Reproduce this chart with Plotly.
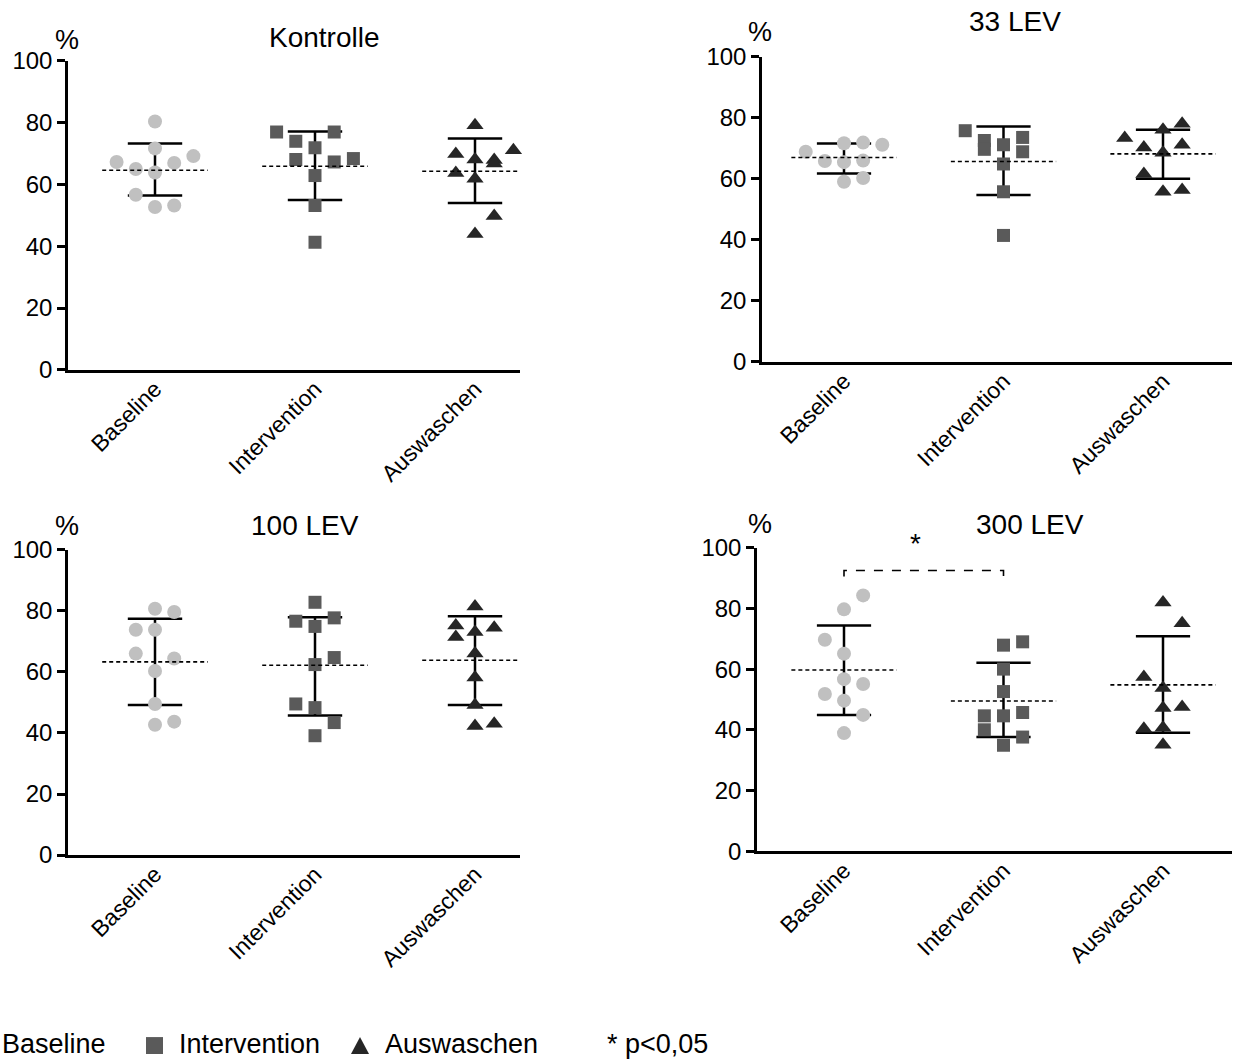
import plotly.graph_objects as go

# ---------------- data ----------------
categories = ["Baseline", "Intervention", "Auswaschen"]
panel_titles = ["Kontrolle", "33 LEV", "100 LEV", "300 LEV"]

kon_baseline = [80.4, 71.7, 67.3, 69.2, 65.0, 67.0, 63.9, 56.7, 52.7, 53.2]
kon_intervention = [77.0, 77.0, 74.0, 71.9, 68.1, 67.3, 68.4, 62.9, 53.2, 41.3]
kon_auswaschen = [79.2, 69.9, 68.1, 67.9, 66.8, 71.1, 63.7, 61.9, 49.8, 44.0]
kon_mean = [64.6, 65.9, 64.3]
kon_upper = [73.3, 77.2, 74.9]
kon_lower = [56.4, 55.0, 54.0]

lev33_baseline = [68.8, 71.6, 71.8, 71.1, 65.8, 65.4, 65.9, 59.0, 60.2]
lev33_intervention = [75.7, 72.5, 69.6, 71.1, 73.5, 68.8, 64.8, 55.7, 41.4]
lev33_auswaschen = [73.3, 70.2, 76.0, 78.0, 71.1, 68.5, 61.5, 55.7, 56.3]
lev33_mean = [66.9, 65.6, 68.1]
lev33_upper = [71.5, 77.1, 76.0]
lev33_lower = [61.7, 54.6, 60.0]

lev100_baseline = [80.7, 79.6, 73.8, 73.8, 66.0, 64.4, 60.3, 49.5, 42.7, 43.7]
lev100_intervention = [82.8, 76.6, 77.7, 74.9, 64.7, 62.4, 49.5, 48.3, 43.4, 39.1]
lev100_auswaschen = [81.4, 75.2, 73.1, 74.5, 71.4, 66.0, 58.2, 49.2, 42.3, 43.0]
lev100_mean = [63.3, 62.2, 63.8]
lev100_upper = [77.4, 77.9, 78.2]
lev100_lower = [49.2, 45.7, 49.2]

lev300_baseline = [84.3, 79.7, 69.7, 65.1, 56.7, 55.1, 51.8, 49.6, 44.9, 38.9]
lev300_intervention = [67.9, 69.0, 60.0, 52.6, 44.6, 40.0, 44.6, 45.7, 37.6, 34.9]
lev300_auswaschen = [82.0, 75.1, 57.4, 53.8, 47.2, 47.5, 40.3, 40.7, 35.1]
lev300_mean = [59.7, 49.5, 54.8]
lev300_upper = [74.4, 62.1, 70.8]
lev300_lower = [44.9, 37.6, 39.0]

y_ticks = [0, 20, 40, 60, 80, 100]
significance_300 = {"pair": (0, 1), "label": "*"}
legend_note = "* p<0,05"

# ---------------- layout helpers (positions / styles) ----------------
slots = {
    0: [[0, 0, -2, 2, -1, 1, 0, -1, 0, 1],
        [-2, 1, -1, 0, -1, 1, 2, 0, 0, 0],
        [0, -1, 0, 1, 1, 2, -1, 0, 1, 0]],
    1: [[-2, 0, 1, 2, -1, 0, 1, 0, 1],
        [-2, -1, -1, 0, 1, 1, 0, 0, 0],
        [-2, -1, 0, 1, 1, 0, -1, 0, 1]],
    2: [[0, 1, -1, 0, -1, 1, 0, 0, 0, 1],
        [0, -1, 1, 0, 1, 0, -1, 0, 1, 0],
        [0, -1, 0, 1, -1, 0, 0, 0, 0, 1]],
    3: [[1, 0, -1, 0, 0, 1, -1, 0, 1, 0],
        [0, 1, 0, 0, -1, -1, 0, 1, 1, 0],
        [0, 1, -1, 0, 0, 1, -1, 0, 0]],
}
STEP = 0.12
MEAN_HALF = 0.33
CAP_HALF = 0.17

panels = [
    (kon_baseline, kon_intervention, kon_auswaschen, kon_mean, kon_upper, kon_lower),
    (lev33_baseline, lev33_intervention, lev33_auswaschen, lev33_mean, lev33_upper, lev33_lower),
    (lev100_baseline, lev100_intervention, lev100_auswaschen, lev100_mean, lev100_upper, lev100_lower),
    (lev300_baseline, lev300_intervention, lev300_auswaschen, lev300_mean, lev300_upper, lev300_lower),
]

W, H = 1246, 1063
def py(y_px):
    return 1 - ((y_px - 10.25) / 0.98) / H

def px(x_px):
    return x_px / W

# (left, right, top, bottom) in target pixels (with small render compensation)
boxes = [(68, 520, 57.5, 368), (762, 1232, 53, 360), (68, 520, 549, 856), (757, 1232, 547, 852)]
cat_px = [(155, 160.0), (844, 159.5), (155, 160.0), (844, 159.5)]

marker_styles = [
    dict(symbol="circle", size=14, color="#c0c0c0"),
    dict(symbol="square", size=13, color="#5a5a5a"),
    dict(symbol="triangle-up", size=15, color="#262626"),
]

FONT = "Liberation Sans, Arial, sans-serif"
TICK_SIZE = 24
XTICK_SIZE = 23
TITLE_SIZE = 28
LEG_SIZE = 27

fig = go.Figure()
layout = dict(width=W, height=H, margin=dict(l=0, r=0, t=0, b=0),
              plot_bgcolor="white", paper_bgcolor="white", showlegend=False,
              font=dict(family=FONT, size=TICK_SIZE, color="black"))
shapes = []
annotations = []

for p, (b, i, a, mean, up, lo) in enumerate(panels):
    sfx = "" if p == 0 else str(p + 1)
    xa, ya = "x" + sfx, "y" + sfx
    left, right, top, bottom = boxes[p]
    c0, sp = cat_px[p]
    xr = [(left - c0) / sp, (right - c0) / sp]
    layout["xaxis" + sfx] = dict(
        domain=[px(left), px(right)], range=xr, anchor=ya,
        tickvals=[0, 1, 2], ticktext=categories, tickangle=-45,
        showline=True, linewidth=2.5, linecolor="black", ticks="",
        ticklabelstandoff=-6,
        showgrid=False, zeroline=False, tickfont=dict(size=XTICK_SIZE),
    )
    layout["yaxis" + sfx] = dict(
        domain=[py(bottom), py(top)], range=[0, 100], anchor=xa,
        tickvals=y_ticks, showline=True, linewidth=2.5, linecolor="black",
        ticks="outside", ticklen=8, tickwidth=2.5, tickcolor="black",
        showgrid=False, zeroline=False, tickfont=dict(size=TICK_SIZE),
    )
    groups = [b, i, a]
    for k in range(3):
        fig.add_trace(go.Scatter(
            x=[k, k, None, k - CAP_HALF, k + CAP_HALF, None, k - CAP_HALF, k + CAP_HALF],
            y=[lo[k], up[k], None, up[k], up[k], None, lo[k], lo[k]],
            mode="lines", line=dict(color="black", width=2.5),
            xaxis=xa, yaxis=ya, hoverinfo="skip", cliponaxis=False))
    for k, vals in enumerate(groups):
        xs = [k + s * STEP for s in slots[p][k]]
        fig.add_trace(go.Scatter(
            x=xs, y=vals, mode="markers", name=categories[k],
            marker=dict(**marker_styles[k], line=dict(width=0)),
            xaxis=xa, yaxis=ya, cliponaxis=False))
    for k in range(3):
        fig.add_trace(go.Scatter(
            x=[k - MEAN_HALF, k + MEAN_HALF], y=[mean[k], mean[k]],
            mode="lines", line=dict(color="black", width=1.6, dash="4px,3px"),
            xaxis=xa, yaxis=ya, hoverinfo="skip"))

pct_pos = [(67, 36), (760, 28), (67, 525), (760, 523)]
for (tx, ty) in pct_pos:
    annotations.append(dict(text="%", x=px(tx), y=py(ty), xref="paper", yref="paper",
                            showarrow=False, font=dict(size=TITLE_SIZE - 1), xanchor="center", yanchor="middle"))

title_pos = [(324, 34), (1015, 18), (305, 525), (1030, 524)]
for t, (tx, ty) in zip(panel_titles, title_pos):
    annotations.append(dict(text=t, x=px(tx), y=py(ty), xref="paper", yref="paper",
                            showarrow=False, font=dict(size=TITLE_SIZE), xanchor="center", yanchor="middle"))

# significance bracket (300 LEV)
i0, i1 = significance_300["pair"]
shapes.append(dict(type="path", xref="x4", yref="y4",
                   path=f"M {i0},90.5 L {i0},92.5 L {i1},92.5 L {i1},90.5",
                   line=dict(color="black", width=1.6, dash="dash")))
annotations.append(dict(text=significance_300["label"], x=px(915), y=py(543),
                        xref="paper", yref="paper", showarrow=False,
                        font=dict(size=TITLE_SIZE), xanchor="center", yanchor="middle"))

# manual legend along the bottom
leg_y = 1046
for txt, lx in [("Baseline", 0), ("Intervention", 177), ("Auswaschen", 383), (legend_note, 605)]:
    annotations.append(dict(text=txt, x=px(lx), y=py(leg_y), xref="paper", yref="paper",
                            showarrow=False, xanchor="left", yanchor="middle",
                            font=dict(size=LEG_SIZE)))
shapes.append(dict(type="rect", xref="paper", yref="paper",
                   x0=px(146), x1=px(163), y0=py(1056), y1=py(1039),
                   fillcolor="#5a5a5a", line=dict(width=0)))
shapes.append(dict(type="path", xref="paper", yref="paper",
                   path=f"M {px(351)},{py(1056)} L {px(369)},{py(1056)} L {px(360)},{py(1039)} Z",
                   fillcolor="#262626", line=dict(width=0)))

layout["shapes"] = shapes
layout["annotations"] = annotations
fig.update_layout(**layout)
fig.write_html("out.html")
